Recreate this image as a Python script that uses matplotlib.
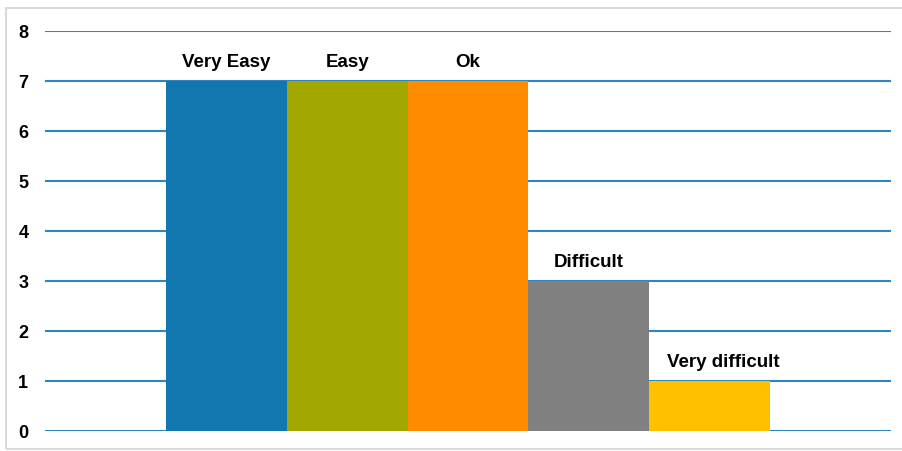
import matplotlib
matplotlib.use("Agg")
import matplotlib.pyplot as plt
from matplotlib.patches import Rectangle
import numpy as np

categories = ["Very Easy", "Easy", "Ok", "Difficult", "Very difficult"]
values = [7, 7, 7, 3, 1]
colors = ["#1277AE", "#A3A800", "#FF8C00", "#808080", "#FFC000"]
yticks = [0, 1, 2, 3, 4, 5, 6, 7, 8]

plt.rcParams['font.family'] = ['Liberation Sans', 'DejaVu Sans']

W, H = 903, 451
fig = plt.figure(figsize=(W / 100, H / 100), dpi=100)
fig.patch.set_facecolor("white")
fig.add_artist(Rectangle((6 / W, 1 - 449 / H), 905 / W, (449 - 8) / H,
                         transform=fig.transFigure, fill=False,
                         edgecolor="#D9D9D9", linewidth=1.5))

ax = fig.add_axes([45 / W, 1 - 431 / H, (891 - 45) / W, 400 / H])
x = np.arange(len(categories)) + 1
ax.set_xlim(-0.5, 6.5)
ax.set_ylim(0, 8)
ax.set_yticks(yticks)
ax.set_yticklabels([str(t) for t in yticks], fontsize=13, fontweight="bold")
ax.tick_params(axis="y", length=0, pad=12)
ax.set_xticks([])
for s in ax.spines.values():
    s.set_visible(False)
ax.yaxis.grid(True, color="#2F86BF", linewidth=1.5)
ax.set_axisbelow(True)

bars = ax.bar(x, values, width=1.0, color=colors, zorder=3)
label_shift = {"Very difficult": 10}
for xi, v, lab in zip(x, values, categories):
    ax.annotate(lab, (xi, v), xytext=(label_shift.get(lab, 0), 7),
                textcoords="offset points",
                ha="center", va="bottom", fontsize=13.5, fontweight="bold")

fig.savefig("out.png", dpi=100, facecolor="white")
